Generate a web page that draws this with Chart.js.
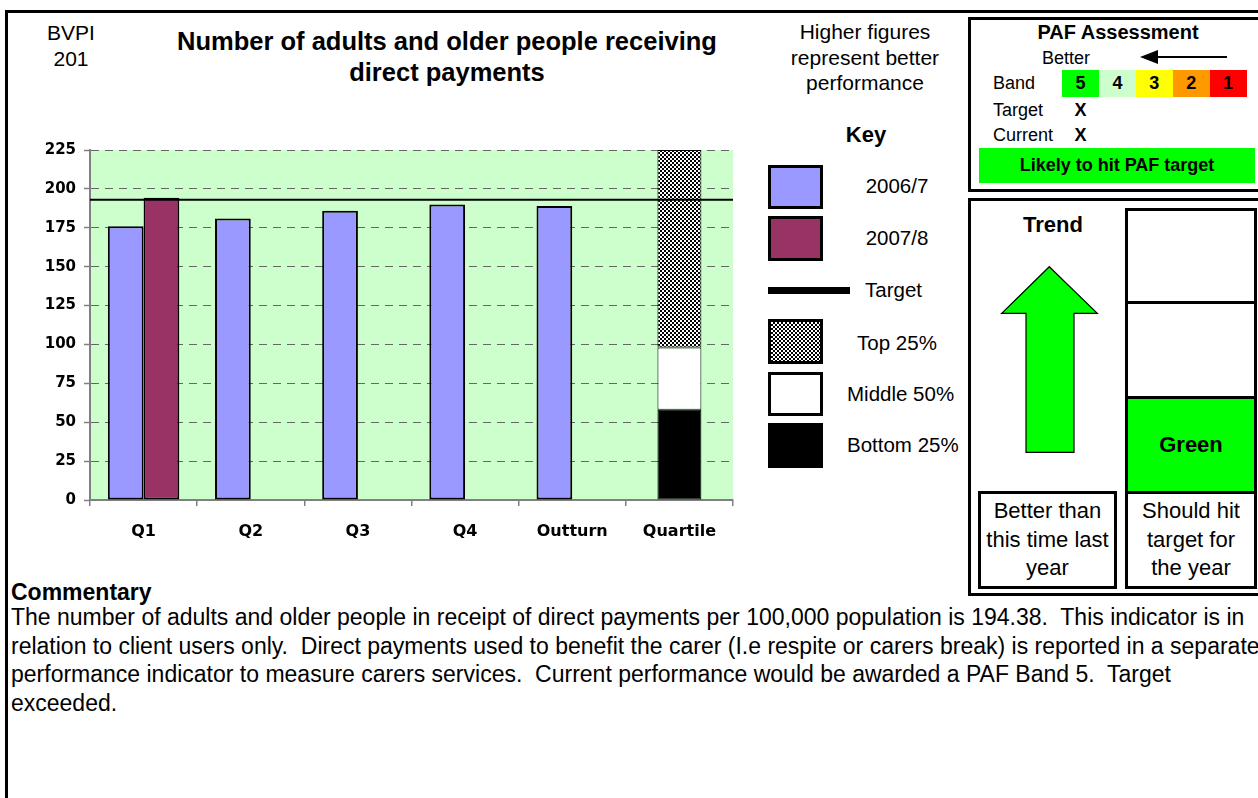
<!DOCTYPE html>
<html>
<head>
<meta charset="utf-8">
<script src="https://cdn.jsdelivr.net/npm/chart.js@4.4.0/dist/chart.umd.min.js"></script>
<style>
    body { margin: 0; width: 1258px; height: 798px; overflow: hidden; background: #fff;
           font-family: Arial, "Liberation Sans", sans-serif; color: #000; position: relative; }
    .abs { position: absolute; }
    .box { position: absolute; box-sizing: border-box; border: 3px solid #000; }
    .c { text-align: center; }
    .b { font-weight: bold; }
    .nw { white-space: nowrap; }
    #chart { position: absolute; left: 30px; top: 140px; }
</style>
</head>
<body>
<div class="abs" style="left:5px;top:10px;width:1400px;height:900px;border-top:3px solid #000;border-left:3px solid #000;"></div>

<div class="abs c" style="left:30px;top:20px;width:82px;font-size:21px;line-height:26px;">BVPI<br>201</div>
<div class="abs c b nw" style="left:147px;top:26px;width:600px;font-size:25.5px;line-height:31px;">Number of adults and older people receiving<br>direct payments</div>
<div class="abs c nw" style="left:765px;top:19px;width:200px;font-size:21px;line-height:25.5px;">Higher figures<br>represent better<br>performance</div>
<div class="abs c b" style="left:816px;top:122px;width:100px;font-size:22px;line-height:26px;">Key</div>

<!-- key -->
<div class="box" style="left:768px;top:165px;width:55px;height:44px;background:#9999FF;"></div>
<div class="box" style="left:768px;top:216px;width:55px;height:45px;background:#993366;"></div>
<div class="abs" style="left:768px;top:287px;width:82px;height:7px;background:#000;"></div>
<div class="box" style="left:768px;top:319px;width:55px;height:45px;background:repeating-conic-gradient(#000 0 25%, #fff 0 50%) 0 0/4px 4px;"></div>
<div class="box" style="left:768px;top:372px;width:55px;height:44px;background:#fff;"></div>
<div class="box" style="left:768px;top:423px;width:55px;height:45px;background:#000;"></div>
<div id="key"></div>

<!-- PAF assessment -->
<div class="box" style="left:968px;top:17px;width:310px;height:175px;"></div>
<div class="abs c b" style="left:1018px;top:20px;width:200px;font-size:20px;line-height:24px;">PAF Assessment</div>
<div class="abs c" style="left:1030px;top:47px;width:72px;font-size:18px;line-height:22px;">Better</div>
<svg class="abs" style="left:1130px;top:45px;" width="110" height="25">
    <line x1="25" y1="12" x2="97" y2="12" stroke="#000" stroke-width="2"/>
    <polygon points="10,12 28,5 28,19" fill="#000"/>
</svg>
<div class="abs" style="left:993px;top:72px;font-size:18px;line-height:22px;">Band</div>
<div class="abs" style="left:993px;top:99px;font-size:18px;line-height:22px;">Target</div>
<div class="abs" style="left:993px;top:124px;font-size:18px;line-height:22px;">Current</div>
<div id="bands"></div>
<div class="abs c b" style="left:1062px;top:99px;width:37px;font-size:18px;line-height:22px;">X</div>
<div class="abs c b" style="left:1062px;top:124px;width:37px;font-size:18px;line-height:22px;">X</div>
<div class="abs c b" style="left:979px;top:148px;width:276px;height:35px;background:#00FF00;font-size:18px;line-height:35px;">Likely to hit PAF target</div>

<!-- Trend -->
<div class="box" style="left:968px;top:198px;width:310px;height:398px;"></div>
<div class="abs c b" style="left:998px;top:212px;width:110px;font-size:22px;line-height:26px;">Trend</div>
<svg class="abs" style="left:990px;top:260px;" width="120" height="200">
    <polygon points="59.3,6.7 107.3,53.3 84,53.3 84,192.3 36,192.3 36,53.3 11.7,53.3" fill="#00FF00" stroke="#000" stroke-width="1.2"/>
</svg>
<div class="box" style="left:1125px;top:208px;width:132px;height:96px;"></div>
<div class="box" style="left:1125px;top:301px;width:132px;height:98px;"></div>
<div class="box c b" style="left:1125px;top:396px;width:132px;height:98px;background:#00FF00;font-size:22px;line-height:92px;">Green</div>
<div class="box c nw" style="left:1125px;top:491px;width:132px;height:98px;font-size:22px;line-height:28.5px;padding-top:3px;">Should hit<br>target for<br>the year</div>
<div class="box c nw" style="left:978px;top:491px;width:139px;height:98px;font-size:22px;line-height:28.5px;padding-top:3px;">Better than<br>this time last<br>year</div>

<!-- Commentary -->
<div class="abs b" style="left:11px;top:578px;font-size:23px;line-height:28px;">Commentary</div>
<div class="abs nw" style="left:11px;top:603px;font-size:23px;line-height:28.5px;">The number of adults and older people in receipt of direct payments per 100,000 population is 194.38.&nbsp; This indicator is in<br>relation to client users only.&nbsp; Direct payments used to benefit the carer (I.e respite or carers break) is reported in a separate<br>performance indicator to measure carers services.&nbsp; Current performance would be awarded a PAF Band 5.&nbsp; Target<br>exceeded.</div>

<canvas id="chart" width="720" height="420"></canvas>

<script>
// chart data
const categories = ['Q1', 'Q2', 'Q3', 'Q4', 'Outturn', 'Quartile'];
const values2006 = [176, 181, 186, 190, 189, null];
const values2007 = [194.38, null, null, null, null, null];
const targetValue = 193;
const quartileBottom = [null, null, null, null, null, 58];
const quartileMiddle = [null, null, null, null, null, 40];
const quartileTop = [null, null, null, null, null, 127];
const yMin = 0, yMax = 225, yStep = 25;

// key labels and PAF bands
const keyLabels = [
    { text: '2006/7', x: 847, y: 174 },
    { text: '2007/8', x: 847, y: 226 },
    { text: 'Target', x: 865, y: 278, left: true },
    { text: 'Top 25%', x: 847, y: 331 },
    { text: 'Middle 50%', x: 847, y: 382 },
    { text: 'Bottom 25%', x: 847, y: 433 }
];
const bandNames = ['5', '4', '3', '2', '1'];
const bandColours = ['#00FF00', '#CCFFCC', '#FFFF00', '#FF9900', '#FF0000'];

const keyDiv = document.getElementById('key');
keyLabels.forEach(k => {
    const d = document.createElement('div');
    d.className = 'abs nw' + (k.left ? '' : ' c');
    d.style.cssText = 'left:' + k.x + 'px;top:' + k.y + 'px;font-size:20.5px;line-height:24px;' + (k.left ? '' : 'width:100px;');
    d.textContent = k.text;
    keyDiv.appendChild(d);
});

const bandsDiv = document.getElementById('bands');
bandNames.forEach((name, i) => {
    const d = document.createElement('div');
    d.className = 'abs c b';
    d.style.cssText = 'left:' + (1062 + i * 36.9) + 'px;top:70px;width:37px;height:27px;line-height:27px;font-size:18px;background:' + bandColours[i] + ';';
    d.textContent = name;
    bandsDiv.appendChild(d);
});

const canvas = document.getElementById('chart');
const ctx = canvas.getContext('2d');

// checker pattern for the top quartile
function checkerPattern() {
    const c = document.createElement('canvas');
    c.width = 4;
    c.height = 4;
    const g = c.getContext('2d');
    g.fillStyle = '#fff';
    g.fillRect(0, 0, 4, 4);
    g.fillStyle = '#000';
    g.fillRect(0, 0, 2, 2);
    g.fillRect(2, 2, 2, 2);
    return ctx.createPattern(c, 'repeat');
}

// light green plot background
const plotBg = {
    id: 'plotBg',
    beforeDraw(chart) {
        const a = chart.chartArea;
        const c = chart.ctx;
        c.save();
        c.fillStyle = '#CCFFCC';
        c.fillRect(a.left, a.top, a.right - a.left, a.bottom - a.top);
        c.restore();
    }
};

// target line across the plot, placed with the y scale
const targetLine = {
    id: 'targetLine',
    afterDatasetsDraw(chart) {
        const a = chart.chartArea;
        const y = chart.scales.y.getPixelForValue(targetValue);
        const c = chart.ctx;
        c.save();
        c.strokeStyle = '#000';
        c.lineWidth = 2;
        c.beginPath();
        c.moveTo(a.left, y);
        c.lineTo(a.right, y);
        c.stroke();
        c.restore();
    }
};

const tickFont = { family: '"DejaVu Sans"', weight: 'bold' };
// quartile segments are not grouped, so they sit centred in their category
const quartileBar = { stack: 's1', grouped: false, borderColor: '#000', borderWidth: 1, borderSkipped: false,
                      categoryPercentage: 1, barPercentage: 0.41 };

new Chart(ctx, {
    type: 'bar',
    data: {
        labels: categories,
        datasets: [
            {
                label: '2006/7', data: values2006, stack: 's1',
                backgroundColor: '#9999FF', borderColor: '#000', borderWidth: 2, borderSkipped: false,
                categoryPercentage: 0.667, barPercentage: 1
            },
            {
                label: '2007/8', data: values2007, stack: 's2',
                backgroundColor: '#993366', borderColor: '#000', borderWidth: 2, borderSkipped: false,
                categoryPercentage: 0.667, barPercentage: 1
            },
            { ...quartileBar, label: 'Bottom 25%', data: quartileBottom, backgroundColor: '#000' },
            { ...quartileBar, label: 'Middle 50%', data: quartileMiddle, backgroundColor: '#fff' },
            { ...quartileBar, label: 'Top 25%', data: quartileTop, backgroundColor: checkerPattern() }
        ]
    },
    options: {
        responsive: false,
        animation: false,
        devicePixelRatio: 1,
        layout: { padding: { left: 10, right: 17, top: 10, bottom: 10 } },
        plugins: { legend: { display: false }, tooltip: { enabled: false } },
        scales: {
            x: {
                stacked: true,
                offset: true,
                grid: { offset: true, drawOnChartArea: false, drawTicks: true, tickLength: 6, color: '#808080', lineWidth: 1.5 },
                border: { color: '#808080', width: 2 },
                ticks: { color: '#000', font: { ...tickFont, size: 16 }, padding: 16 },
                afterFit: s => { s.height = 50; }
            },
            y: {
                stacked: true,
                min: yMin, max: yMax,
                grid: { color: '#666', lineWidth: 1, tickLength: 6, tickColor: '#808080', tickWidth: 1.5, tickBorderDash: [] },
                border: { color: '#808080', width: 2, dash: [8, 6] },
                ticks: { stepSize: yStep, color: '#000', font: { ...tickFont, size: 15 }, padding: 8 },
                afterFit: s => { s.width = 50; s.paddingTop = 0; s.paddingBottom = 0; }
            }
        }
    },
    plugins: [plotBg, targetLine]
});
</script>
</body>
</html>
